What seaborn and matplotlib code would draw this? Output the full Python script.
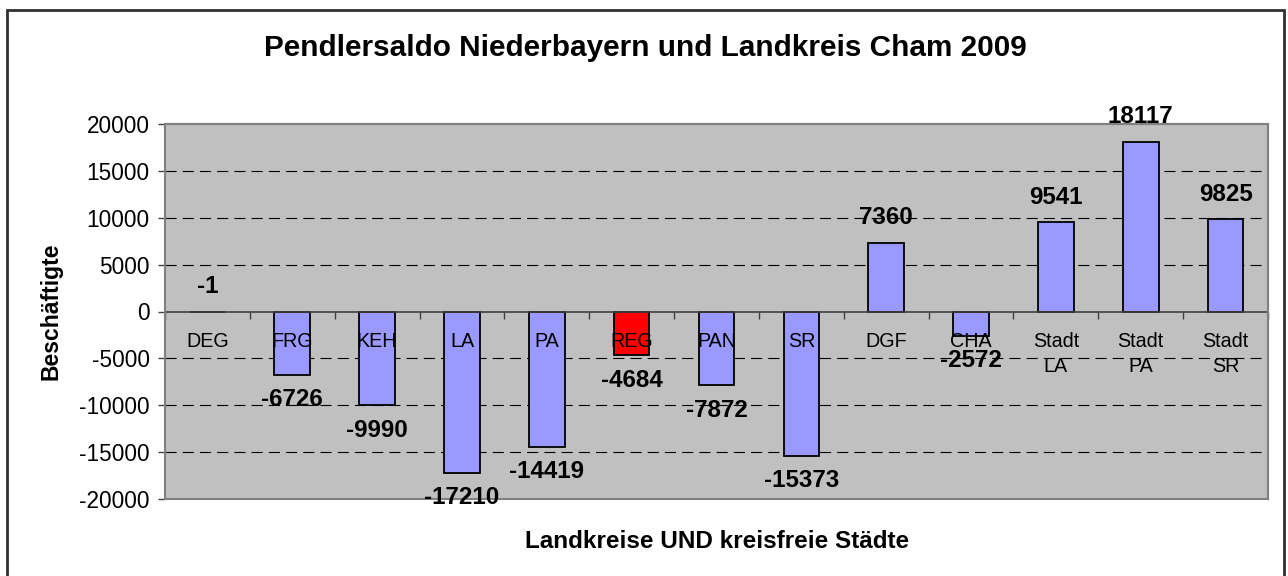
import matplotlib
matplotlib.use("Agg")
import matplotlib.pyplot as plt
import seaborn as sns
import pandas as pd
from matplotlib.patches import Rectangle

# data
kreise = ['DEG', 'FRG', 'KEH', 'LA', 'PA', 'REG', 'PAN', 'SR', 'DGF', 'CHA',
          'Stadt\nLA', 'Stadt\nPA', 'Stadt\nSR']
saldo = [-1, -6726, -9990, -17210, -14419, -4684, -7872, -15373, 7360, -2572,
         9541, 18117, 9825]
farben = ['#9999FF'] * 5 + ['#FF0000'] + ['#9999FF'] * 7

sns.set_style('white')
plt.rcParams['font.family'] = ['Liberation Sans', 'DejaVu Sans']
plt.rcParams['text.color'] = 'black'
plt.rcParams['axes.labelcolor'] = 'black'
plt.rcParams['ytick.color'] = 'black'
plt.rcParams['axes.unicode_minus'] = False

df = pd.DataFrame({'kreis': kreise, 'saldo': saldo})

fig = plt.figure(figsize=(12.88, 5.76), dpi=100)
ax = fig.add_axes([165/1288, 1-499/576, (1268-165)/1288, 375/576])
ax.set_facecolor('#C0C0C0')

sns.barplot(data=df, x='kreis', y='saldo', hue='kreis', palette=farben,
            legend=False, width=0.42, edgecolor='black', linewidth=1.3,
            saturation=1, ax=ax, zorder=3)

ax.set_ylim(-20000, 20000)
ax.set_xlim(-0.5, len(kreise) - 0.5)
ax.set_yticks(range(-20000, 20001, 5000))
ax.tick_params(axis='y', labelsize=16.3, length=5, width=1, color='#404040',
               direction='out', left=True, pad=6)
for y in range(-15000, 20000, 5000):
    if y != 0:
        ax.axhline(y, color='black', linestyle=(0, (10, 5.5)), linewidth=0.8,
                   zorder=1)

# x axis on zero line with ticks between the categories
ax.spines['bottom'].set_position(('data', 0))
ax.spines['bottom'].set_color('#404040')
ax.spines['bottom'].set_linewidth(1.2)
ax.spines['bottom'].set_zorder(4)
ax.set_xticks([i - 0.5 for i in range(len(kreise) + 1)])
ax.set_xticklabels([])
ax.tick_params(axis='x', length=5, width=1, color='#404040', direction='out',
               bottom=True)
ax.spines['left'].set_color('#404040')
ax.spines['left'].set_linewidth(1.2)
for s in ['top', 'right']:
    ax.spines[s].set_color('#808080')
    ax.spines[s].set_linewidth(1.5)
ax.add_patch(Rectangle((0, 0), 1, 1, transform=ax.transAxes, fill=False,
                       edgecolor='#808080', linewidth=1.5, zorder=5,
                       clip_on=False))

# category labels just below zero line
for i, k in enumerate(kreise):
    ax.text(i, -2200, k, ha='center', va='top', fontsize=14.2,
            linespacing=1.4, zorder=6)

# value labels: outside end of bar (tiny bars get label above)
for i, v in enumerate(saldo):
    off = 18 if v > -100 else -18
    ax.annotate(str(v), xy=(i, v), xytext=(0, off), textcoords='offset points',
                ha='center', va='center', fontsize=17.4, fontweight='bold',
                zorder=7, annotation_clip=False)

ax.set_xlabel('')
ax.set_ylabel('Beschäftigte', fontsize=16.5, fontweight='bold', labelpad=12)
fig.text(717/1288, 1-541/576, 'Landkreise UND kreisfreie Städte',
         ha='center', va='center', fontsize=17.5, fontweight='bold')
fig.text(645/1288, 1-48/576, 'Pendlersaldo Niederbayern und Landkreis Cham 2009',
         ha='center', va='center', fontsize=21.4, fontweight='bold')

# outer frame
fig.add_artist(Rectangle((7/1288, -0.05), (1284-7)/1288, 1.05 - 10/576,
                         transform=fig.transFigure, fill=False,
                         edgecolor='#303030', linewidth=2, clip_on=False))

fig.savefig('out.png', dpi=100)
